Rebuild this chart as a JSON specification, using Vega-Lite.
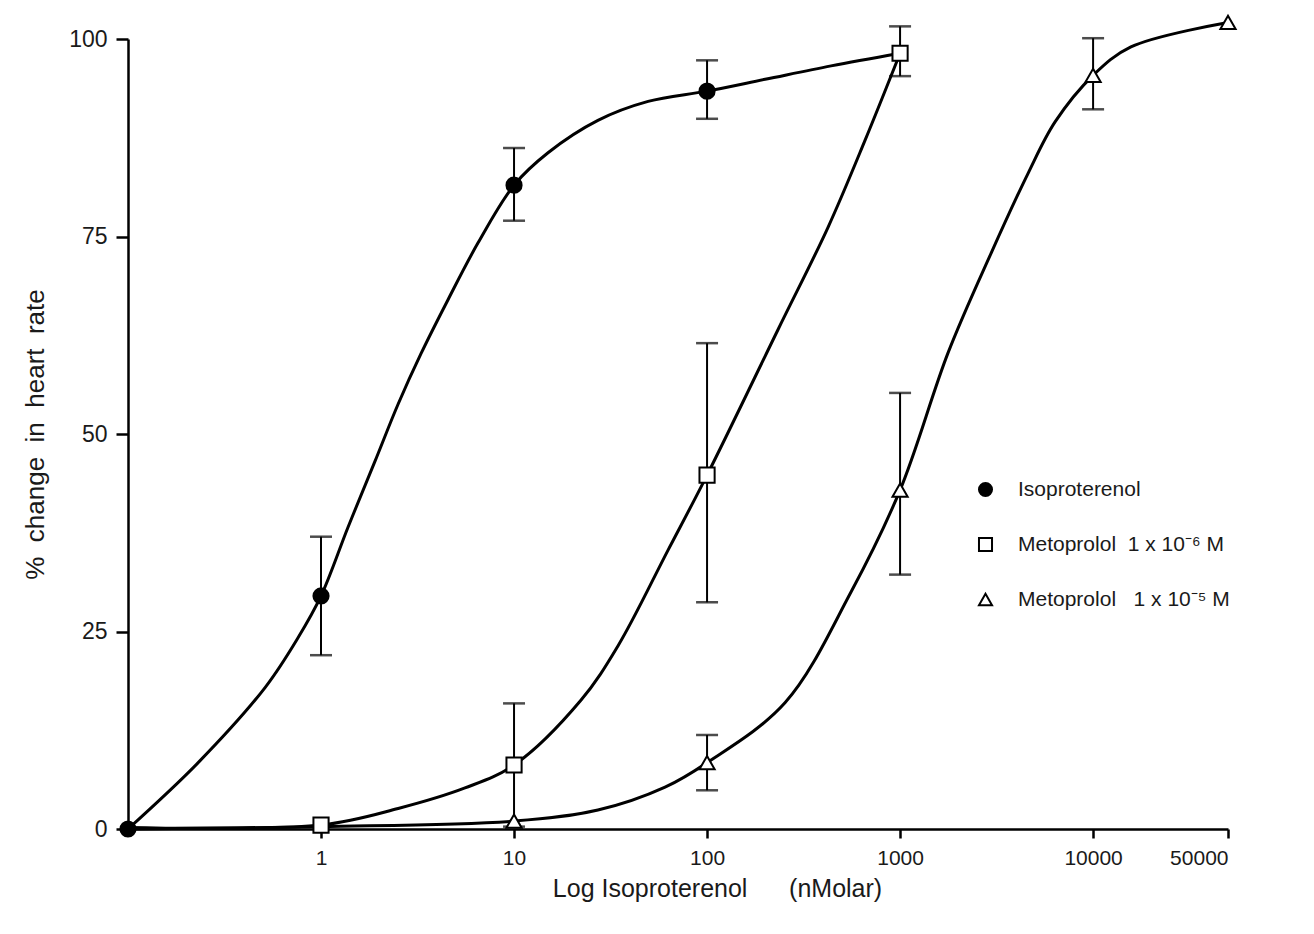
{
  "$schema": "https://vega.github.io/schema/vega-lite/v6.json",
  "width": 1100,
  "height": 790,
  "autosize": {"type": "none"},
  "padding": {"left": 128, "top": 39, "right": 86, "bottom": 105},
  "background": "white",
  "config": {
    "view": {"stroke": null},
    "font": "Liberation Sans",
    "axis": {"grid": false, "domainColor": "black", "tickColor": "black", "domainWidth": 2.5, "tickWidth": 2.5, "labelColor": "#1a1a1a", "titleColor": "#1a1a1a", "titleFontWeight": "normal", "labelFont": "Liberation Sans", "titleFont": "Liberation Sans"}
  },
  "datasets": {
    "curves": [
      {"series": "iso", "conc": 0.1, "value": 0},
      {"series": "iso", "conc": 0.231, "value": 8.4},
      {"series": "iso", "conc": 0.513, "value": 17.9},
      {"series": "iso", "conc": 0.76, "value": 24.2},
      {"series": "iso", "conc": 1, "value": 29.5},
      {"series": "iso", "conc": 1.38, "value": 38.2},
      {"series": "iso", "conc": 1.9, "value": 46.5},
      {"series": "iso", "conc": 2.51, "value": 53.8},
      {"series": "iso", "conc": 3.3, "value": 60.2},
      {"series": "iso", "conc": 4.55, "value": 67.0},
      {"series": "iso", "conc": 6.51, "value": 74.2},
      {"series": "iso", "conc": 10, "value": 81.5},
      {"series": "iso", "conc": 15, "value": 85.6},
      {"series": "iso", "conc": 27.2, "value": 89.7},
      {"series": "iso", "conc": 49.5, "value": 92.1},
      {"series": "iso", "conc": 100, "value": 93.4},
      {"series": "iso", "conc": 200, "value": 94.9},
      {"series": "iso", "conc": 439, "value": 96.6},
      {"series": "iso", "conc": 1000, "value": 98.2},
      {"series": "m6", "conc": 0.1, "value": 0.2},
      {"series": "m6", "conc": 1, "value": 0.5},
      {"series": "m6", "conc": 2.51, "value": 2.6},
      {"series": "m6", "conc": 5.57, "value": 5.2},
      {"series": "m6", "conc": 10, "value": 8.1},
      {"series": "m6", "conc": 22.2, "value": 16.3},
      {"series": "m6", "conc": 34.6, "value": 23.2},
      {"series": "m6", "conc": 62.8, "value": 35.3},
      {"series": "m6", "conc": 100, "value": 44.8},
      {"series": "m6", "conc": 233, "value": 63.2},
      {"series": "m6", "conc": 424, "value": 76.2},
      {"series": "m6", "conc": 659, "value": 87.2},
      {"series": "m6", "conc": 1000, "value": 98.2},
      {"series": "m5", "conc": 0.1, "value": 0},
      {"series": "m5", "conc": 1, "value": 0.3},
      {"series": "m5", "conc": 10, "value": 1.0},
      {"series": "m5", "conc": 27.2, "value": 2.4},
      {"series": "m5", "conc": 60.6, "value": 5.3},
      {"series": "m5", "conc": 100, "value": 8.4},
      {"series": "m5", "conc": 254, "value": 16.0},
      {"series": "m5", "conc": 557, "value": 30.0},
      {"series": "m5", "conc": 1000, "value": 42.9},
      {"series": "m5", "conc": 1774, "value": 60.3},
      {"series": "m5", "conc": 2964, "value": 72.9},
      {"series": "m5", "conc": 4605, "value": 83.0},
      {"series": "m5", "conc": 6353, "value": 89.5},
      {"series": "m5", "conc": 10000, "value": 95.4},
      {"series": "m5", "conc": 15700, "value": 99.0},
      {"series": "m5", "conc": 50000, "value": 102.1}
    ],
    "points": [
      {"series": "iso", "conc": 0.1, "value": 0},
      {"series": "iso", "conc": 1, "value": 29.5, "lo": 22.0, "hi": 37.0},
      {"series": "iso", "conc": 10, "value": 81.5, "lo": 77.0, "hi": 86.2},
      {"series": "iso", "conc": 100, "value": 93.4, "lo": 89.9, "hi": 97.3},
      {"series": "m6", "conc": 1, "value": 0.5},
      {"series": "m6", "conc": 10, "value": 8.1, "lo": 0.3, "hi": 15.9},
      {"series": "m6", "conc": 100, "value": 44.8, "lo": 28.7, "hi": 61.5},
      {"series": "m6", "conc": 1000, "value": 98.2, "lo": 95.3, "hi": 101.6},
      {"series": "m5", "conc": 10, "value": 1.0},
      {"series": "m5", "conc": 100, "value": 8.4, "lo": 4.9, "hi": 11.9},
      {"series": "m5", "conc": 1000, "value": 42.9, "lo": 32.2, "hi": 55.2},
      {"series": "m5", "conc": 10000, "value": 95.4, "lo": 91.1, "hi": 100.1},
      {"series": "m5", "conc": 50000, "value": 102.1}
    ]
  },
  "encoding": {
    "x": {
      "field": "conc", "type": "quantitative",
      "scale": {"type": "log", "domain": [0.1, 50000], "nice": false},
      "axis": {
        "values": [1, 10, 100, 1000, 10000, 50000], "format": "d",
        "labelFontSize": 21, "tickSize": 9, "labelPadding": 9,
        "title": "Log Isoproterenol\u00a0\u00a0\u00a0\u00a0\u00a0\u00a0(nMolar)", "titleFontSize": 25, "titleX": 589, "titlePadding": 8
      }
    },
    "y": {
      "field": "value", "type": "quantitative",
      "scale": {"domain": [0, 100], "nice": false},
      "axis": {
        "values": [0, 25, 50, 75, 100], "labelFontSize": 23, "tickSize": 12, "labelPadding": 9,
        "title": "%\u00a0\u00a0change\u00a0\u00a0in\u00a0\u00a0heart\u00a0\u00a0rate", "titleFontSize": 26, "titlePadding": 20
      }
    }
  },
  "layer": [
    {
      "data": {"name": "curves"},
      "mark": {"type": "line", "interpolate": "catmull-rom", "color": "black", "strokeWidth": 3},
      "encoding": {"detail": {"field": "series"}}
    },
    {
      "data": {"name": "points"},
      "transform": [{"filter": "isValid(datum.lo)"}],
      "mark": {"type": "rule", "color": "black", "strokeWidth": 2},
      "encoding": {"y": {"field": "lo", "type": "quantitative"}, "y2": {"field": "hi"}}
    },
    {
      "data": {"name": "points"},
      "transform": [{"filter": "isValid(datum.lo)"}],
      "mark": {"type": "tick", "orient": "horizontal", "color": "black", "size": 22, "thickness": 2.5},
      "encoding": {"y": {"field": "lo", "type": "quantitative"}}
    },
    {
      "data": {"name": "points"},
      "transform": [{"filter": "isValid(datum.lo)"}],
      "mark": {"type": "tick", "orient": "horizontal", "color": "black", "size": 22, "thickness": 2.5},
      "encoding": {"y": {"field": "hi", "type": "quantitative"}}
    },
    {
      "data": {"name": "points"},
      "mark": {"type": "point", "filled": true, "strokeWidth": 2, "size": 230, "opacity": 1},
      "encoding": {
        "shape": {
          "field": "series", "type": "nominal",
          "scale": {"domain": ["iso", "m6", "m5"], "range": ["circle", "square", "triangle-up"]},
          "legend": {
            "orient": "none", "legendX": 847, "legendY": 440, "title": null,
            "labelFontSize": 21, "labelColor": "#1a1a1a", "labelLimit": 400, "symbolSize": 170, "symbolStrokeWidth": 2,
            "labelOffset": 22, "rowPadding": 32,
            "labelExpr": "datum.value == 'iso' ? 'Isoproterenol' : datum.value == 'm6' ? 'Metoprolol\u00a0\u00a01\u00a0x\u00a010\u207b\u2076\u00a0M' : 'Metoprolol\u00a0\u00a0\u00a01\u00a0x\u00a010\u207b\u2075\u00a0M'"
          }
        },
        "fill": {
          "field": "series", "type": "nominal",
          "scale": {"domain": ["iso", "m6", "m5"], "range": ["black", "white", "white"]},
          "legend": {
            "orient": "none", "legendX": 847, "legendY": 440, "title": null,
            "labelFontSize": 21, "labelColor": "#1a1a1a", "labelLimit": 400, "symbolSize": 170, "symbolStrokeWidth": 2,
            "labelOffset": 22, "rowPadding": 32,
            "labelExpr": "datum.value == 'iso' ? 'Isoproterenol' : datum.value == 'm6' ? 'Metoprolol\u00a0\u00a01\u00a0x\u00a010\u207b\u2076\u00a0M' : 'Metoprolol\u00a0\u00a0\u00a01\u00a0x\u00a010\u207b\u2075\u00a0M'"
          }
        },
        "stroke": {
          "field": "series", "type": "nominal",
          "scale": {"domain": ["iso", "m6", "m5"], "range": ["black", "black", "black"]},
          "legend": {
            "orient": "none", "legendX": 847, "legendY": 440, "title": null,
            "labelFontSize": 21, "labelColor": "#1a1a1a", "labelLimit": 400, "symbolSize": 170, "symbolStrokeWidth": 2,
            "labelOffset": 22, "rowPadding": 32,
            "labelExpr": "datum.value == 'iso' ? 'Isoproterenol' : datum.value == 'm6' ? 'Metoprolol\u00a0\u00a01\u00a0x\u00a010\u207b\u2076\u00a0M' : 'Metoprolol\u00a0\u00a0\u00a01\u00a0x\u00a010\u207b\u2075\u00a0M'"
          }
        }
      }
    }
  ]
}
